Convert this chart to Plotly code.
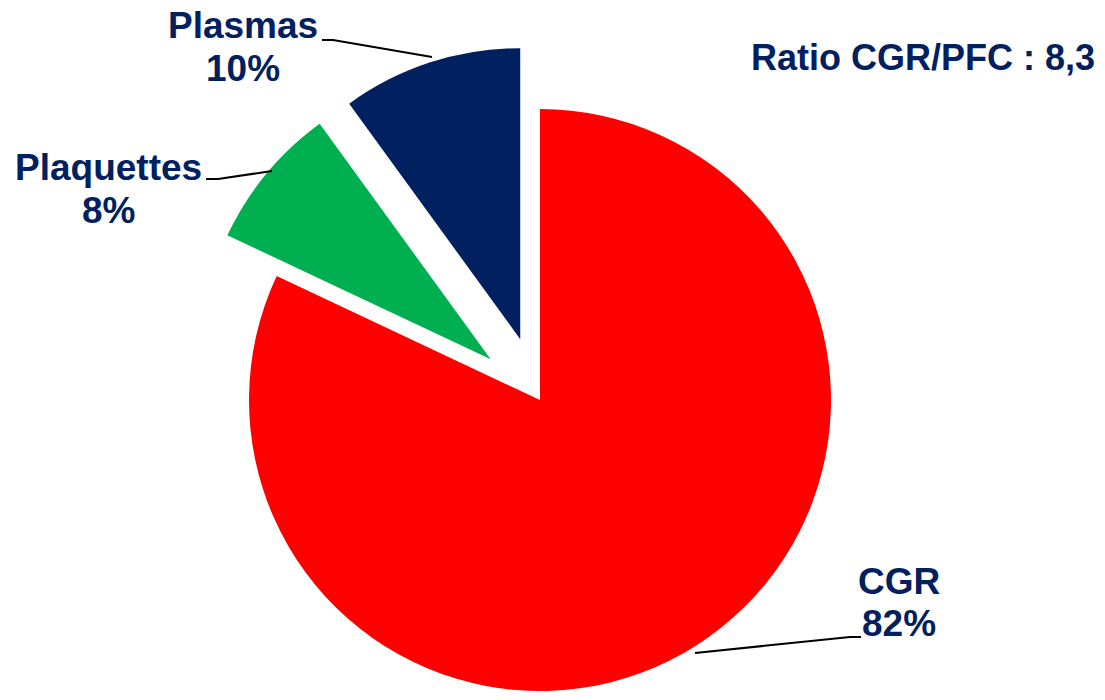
import math
import plotly.graph_objects as go

# ---- data ----
labels = ["CGR", "Plaquettes", "Plasmas"]
values = [82, 8, 10]
colors = ["#FF0000", "#00B050", "#002060"]
pulled = [False, True, True]
ratio_text = "Ratio CGR/PFC : 8,3"

W, H = 1105, 700
CX, CY, R = 540, 400, 291
PULL_PX = 64
TEXT_COLOR = "#002060"
FONT = "Liberation Sans"


def dom(cx, cy, r):
    return dict(x=[(cx - r) / W, (cx + r) / W], y=[1 - (cy + r) / H, 1 - (cy - r) / H])


def px(x, y):
    return x / W, 1 - y / H


fig = go.Figure()
total = sum(values)
cum = 0
for i, (lab, v) in enumerate(zip(labels, values)):
    mid = (cum + v / 2) / total * 2 * math.pi
    cum += v
    d = PULL_PX if pulled[i] else 0
    cx = CX + d * math.sin(mid)
    cy = CY - d * math.cos(mid)
    cols = [c if j == i else "rgba(0,0,0,0)" for j, c in enumerate(colors)]
    fig.add_trace(go.Pie(
        labels=labels, values=values, sort=False, direction="clockwise", rotation=0,
        marker=dict(colors=cols, line=dict(width=0)),
        textinfo="none", hoverinfo="skip", showlegend=False,
        domain=dom(cx, cy, R),
    ))

pct = [round(v / total * 100) for v in values]

# label positions (pixels): (x, y line1, y line2)
label_pos = {"CGR": (899, 581.5, 623.5), "Plaquettes": (108, 167.5, 211), "Plasmas": (242.5, 25.5, 69)}
annotations = []
for lab, p in zip(labels, pct):
    x, y1, y2 = label_pos[lab]
    for txt, yy in ((lab, y1), (f"{p}%", y2)):
        ax_, ay_ = px(x, yy)
        annotations.append(dict(x=ax_, y=ay_, xref="paper", yref="paper", text=f"<b>{txt}</b>",
                                showarrow=False, xanchor="center", yanchor="middle",
                                font=dict(family=FONT, size=37, color=TEXT_COLOR)))
rx, ry = px(922.5, 58)
annotations.append(dict(x=rx, y=ry, xref="paper", yref="paper", text=f"<b>{ratio_text}</b>",
                        showarrow=False, xanchor="center", yanchor="middle",
                        font=dict(family=FONT, size=36, color=TEXT_COLOR)))

leaders = [
    [(322, 40), (333, 40), (432, 57)],
    [(206, 179), (218, 179), (272, 171)],
    [(695, 653), (850, 637), (861, 637)],
]
shapes = []
for pts in leaders:
    path = "M " + " L ".join(f"{px(x, y)[0]:.5f},{px(x, y)[1]:.5f}" for x, y in pts)
    shapes.append(dict(type="path", path=path, xref="paper", yref="paper",
                       line=dict(color="black", width=2)))

fig.update_layout(width=W, height=H, margin=dict(l=0, r=0, t=0, b=0),
                  paper_bgcolor="white", plot_bgcolor="white",
                  annotations=annotations, shapes=shapes)
fig.write_html("out.html", config={"displayModeBar": False},
               post_script="document.body.style.margin='0';document.body.style.padding='0';document.body.style.overflow='hidden';")
